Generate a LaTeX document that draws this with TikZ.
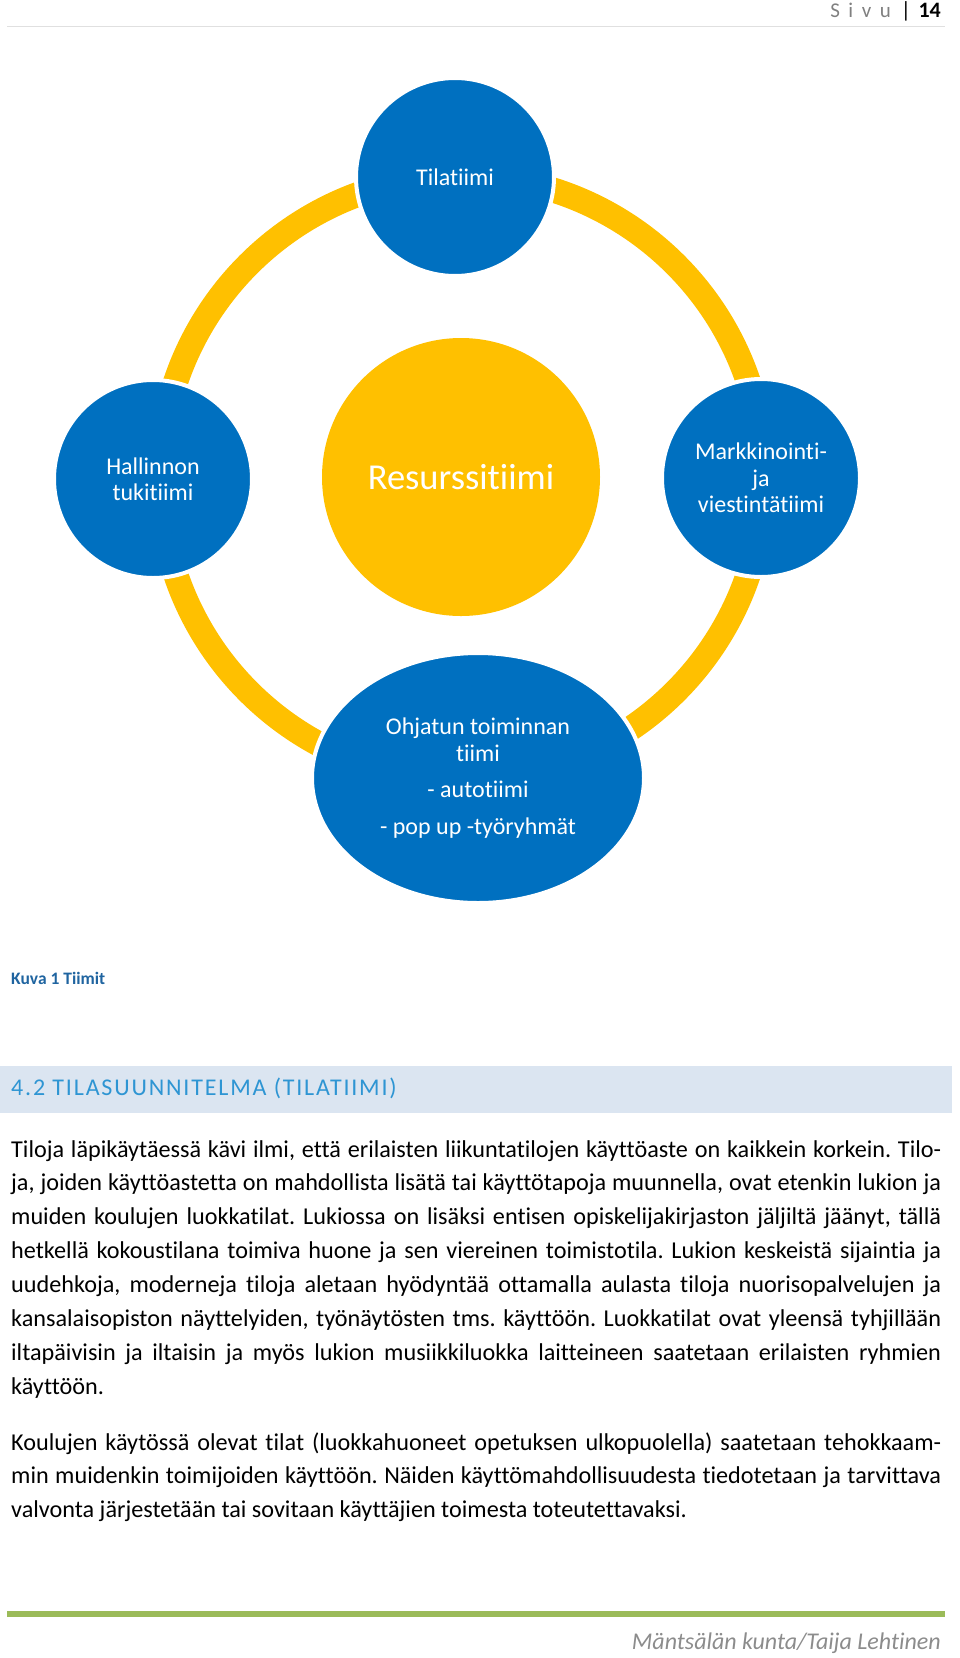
\documentclass[tikz,border=0pt]{standalone}
\usepackage{fontspec}
\setmainfont{Carlito}[Ligatures={NoCommon}]
\usetikzlibrary{shapes.geometric}

\definecolor{teamblue}{HTML}{0070C0}
\definecolor{ringgold}{HTML}{FFC000}
\definecolor{barblue}{HTML}{DBE5F1}
\definecolor{headblue}{HTML}{2E95D3}
\definecolor{capblue}{HTML}{1F64A0}
\definecolor{footgreen}{HTML}{9BBB59}

\frenchspacing
\hyphenpenalty=10000
\tolerance=9999

\tikzset{
  team/.style={circle, fill=teamblue, draw=white, line width=4pt, minimum size=198pt,
    inner sep=0pt, text=white, align=center, font=\fontsize{24}{26.5}\selectfont},
  bodytext/.style={anchor=base west, inner sep=0pt, text width=930pt, align=justify,
    font=\fontsize{24.2}{33.86}\selectfont},
}

\begin{document}
\begin{tikzpicture}[x=1pt, y=-1pt]
        \useasboundingbox (0,0) rectangle (960,1658);
        % header
        \draw[black!12, line width=1pt] (7,26) -- (945,26);
        \node[anchor=base east, inner sep=0pt, font=\bfseries\fontsize{22}{24}\selectfont] (pagenr) at (941,17) {14};
        \node[anchor=base, inner sep=0pt, font=\fontsize{22}{24}\selectfont] (bar) at (906,17) {|};
        \node[anchor=base east, inner sep=0pt, text=black!50, font=\fontsize{21}{24}\selectfont] (sivu) at (891,17)
            {S\hspace{8.5pt}i\hspace{8.5pt}v\hspace{8.5pt}u};

        % teams
        \coordinate (hub) at (462,478);
        \draw[ringgold, line width=25pt] (hub) circle (302);
        \node[circle, fill=ringgold, minimum size=278pt, inner sep=0pt, text=white,
            font=\fontsize{36.5}{40}\selectfont] (resurssi) at (461,477) {Resurssitiimi};
        \node[team] (tila) at (455,177) {Tilatiimi};
        \node[team] (hallinto) at (153,479) {Hallinnon\\tukitiimi};
        \node[team] (markkinointi) at (761,478) {Markkinointi-\\ja\\viestintätiimi};
        \node[team, ellipse, minimum width=332pt, minimum height=250pt] (ohjattu) at (478,778)
            {Ohjatun toiminnan\\tiimi\\[10pt]- autotiimi\\[10pt]- pop up -työryhmät};

        \node[anchor=base west, inner sep=0pt, text=capblue, font=\bfseries\fontsize{17.5}{20}\selectfont] (kuva) at (11,984) {Kuva 1 Tiimit};

        % section heading
        \fill[barblue] (0,1066) rectangle (952,1113);
        \node[anchor=base west, inner sep=0pt, text=headblue, font=\fontsize{24}{26}\selectfont\addfontfeature{LetterSpace=7.6}] (otsikko) at (11,1095)
            {4.2 TILASUUNNITELMA (TILATIIMI)};

        \node[bodytext] (kpl1) at (11,1157) {Tiloja läpikäytäessä kävi ilmi, että erilaisten liikuntatilojen käyttöaste on kaikkein korkein. Tilo-\linebreak
            ja, joiden käyttöastetta on mahdollista lisätä tai käyttötapoja muunnella, ovat etenkin lukion ja\linebreak
            muiden koulujen luokkatilat. Lukiossa on lisäksi entisen opiskelijakirjaston jäljiltä jäänyt, tällä\linebreak
            hetkellä kokoustilana toimiva huone ja sen viereinen toimistotila. Lukion keskeistä sijaintia ja\linebreak
            uudehkoja, moderneja tiloja aletaan hyödyntää ottamalla aulasta tiloja nuorisopalvelujen ja\linebreak
            kansalaisopiston näyttelyiden, työnäytösten tms. käyttöön. Luokkatilat ovat yleensä tyhjillään\linebreak
            iltapäivisin ja iltaisin ja myös lukion musiikkiluokka laitteineen saatetaan erilaisten ryhmien\linebreak
            käyttöön.};
        \node[bodytext] (kpl2) at (11,1450) {Koulujen käytössä olevat tilat (luokkahuoneet opetuksen ulkopuolella) saatetaan tehokkaam-\linebreak
            min muidenkin toimijoiden käyttöön. Näiden käyttömahdollisuudesta tiedotetaan ja tarvittava\linebreak
            valvonta järjestetään tai sovitaan käyttäjien toimesta toteutettavaksi.};

        % footer
        \draw[footgreen, line width=6pt] (7,1614) -- (945,1614);
        \node[anchor=base east, inner sep=0pt, text=black!45, font=\itshape\fontsize{24}{26}\selectfont] (tekija) at (941,1649)
            {Mäntsälän kunta/Taija Lehtinen};
    \end{tikzpicture}
\end{document}
